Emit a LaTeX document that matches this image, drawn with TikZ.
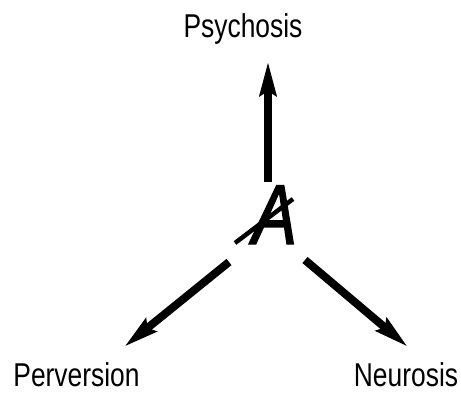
\documentclass[tikz,border=0pt]{standalone}
\usepackage{fontspec}
\usepackage{tikz}
\usetikzlibrary{arrows.meta,positioning,calc}
\newfontfamily\labfont[FakeStretch=0.80]{Liberation Sans}
\newfontfamily\barfont[FakeStretch=0.79,FakeBold=1.5]{Liberation Sans}
\tikzset{
  label/.style={font=\labfont\fontsize{33}{33}\selectfont, inner sep=0pt, anchor=base},
  barred/.style={font=\barfont\itshape\fontsize{85}{85}\selectfont, inner sep=0pt, anchor=base west},
  arrow/.style={-{Stealth[length=34pt,width=16pt,inset=4pt]}, line width=8pt, draw=black},
  slash/.style={line width=4.5pt, draw=black}
}
\begin{document}
\begin{tikzpicture}[x=1pt,y=-1pt]
    \useasboundingbox (0,0) rectangle (461,394);

    % Labels
    \node[label] (psy) at (243,37) {Psychosis};
    \node[label] (per) at (76.5,386) {Perversion};
    \node[label] (neu) at (406,386) {Neurosis};

    % Barred A
    \node[barred] (A) at (252,244) {A};
    \coordinate (slashlo) at (235,243);
    \coordinate (slashhi) at (293,199);
    \draw[slash] (slashlo) -- (slashhi);

    % Arrows
    \coordinate (upfoot) at (268,182);
    \coordinate (uptip) at (268,61);
    \coordinate (leftfoot) at (229,262);
    \coordinate (lefttip) at (124,347);
    \coordinate (rightfoot) at (305,260);
    \coordinate (righttip) at (408,347);
    \draw[arrow] (upfoot) -- (uptip);
    \draw[arrow] (leftfoot) -- (lefttip);
    \draw[arrow] (rightfoot) -- (righttip);
  \end{tikzpicture}
\end{document}
